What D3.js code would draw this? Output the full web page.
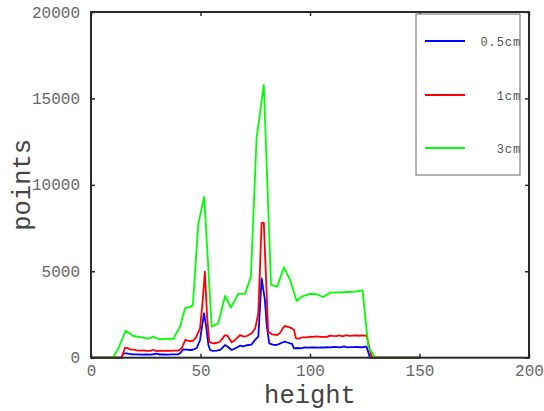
<!DOCTYPE html>
<html>
<head>
<meta charset="utf-8">
<script src="https://cdn.jsdelivr.net/npm/d3@7"></script>
<style>
  html, body { margin: 0; padding: 0; background: #fff; }
  svg { display: block; }
</style>
</head>
<body>
<svg id="chart" width="544" height="411"></svg>
<script>
// Pixel counts per height for three sample thicknesses
const heights05 = [0, 14, 14.7, 16, 17.5, 19, 21, 23, 25, 27, 28.5, 29.9, 31.5, 33, 35, 37, 39.9, 41, 42.1, 43.5, 45.2, 46.5, 48.3, 49.8, 50.8, 51.6, 52.6, 53.6, 54.4, 55.5, 57.4, 59, 60.2, 61.2, 62.3, 64.2, 65.5, 67, 68, 69.5, 70.5, 71.8, 73.2, 74.9, 76.4, 77.9, 79.4, 80.3, 81.4, 83, 84.6, 86, 87.4, 88.5, 89.7, 90.9, 91.8, 92.7, 94.2, 95.8, 97.7, 99, 100.5, 102, 103.5, 105, 106.5, 108, 109.5, 111, 112.5, 114, 115.5, 117, 118.5, 120, 121.5, 123, 124.5, 125.8, 127.4, 150];
const points05  = [0, 0, 255, 250, 215, 200, 190, 180, 185, 175, 200, 230, 185, 195, 180, 190, 200, 300, 485, 470, 445, 460, 560, 1025, 1900, 2570, 1800, 735, 445, 400, 405, 450, 600, 735, 650, 445, 520, 620, 695, 650, 700, 735, 760, 1025, 1215, 4590, 3340, 1800, 830, 760, 735, 800, 880, 925, 880, 830, 800, 545, 560, 545, 600, 580, 600, 590, 580, 600, 590, 605, 600, 620, 610, 600, 650, 600, 615, 610, 620, 605, 620, 640, 0, 0];

const heights1 = [0, 14, 15.5, 16.5, 17.8, 19.5, 21, 22.4, 24, 25.5, 27, 28.4, 29.9, 31.5, 33, 34.6, 36, 37.5, 39.9, 41.5, 43, 44, 45.2, 46.5, 47.8, 49.8, 51, 52, 53, 54, 55.7, 57.2, 58.8, 60.2, 61.2, 62.2, 64.2, 65.5, 67, 68, 69.2, 70.3, 71.8, 73.4, 75, 76.4, 77.9, 78.9, 80.9, 82.4, 83.6, 85, 86.5, 87.5, 88.5, 89.6, 90.9, 91.8, 92.7, 93.6, 95, 96.4, 98.5, 100, 101.5, 103, 104.5, 106, 107.5, 109, 110.5, 112, 113.5, 115, 116.5, 118, 119.5, 121, 122.5, 124, 125.8, 128.2, 150];
const points1  = [0, 0, 580, 560, 485, 470, 430, 405, 420, 400, 395, 460, 380, 410, 390, 405, 395, 410, 405, 560, 1025, 990, 965, 980, 1150, 1700, 3300, 4980, 2400, 925, 830, 850, 925, 1150, 1310, 1280, 890, 1000, 1180, 1310, 1250, 1215, 1300, 1410, 1700, 2570, 7780, 7810, 1500, 1370, 1330, 1310, 1450, 1700, 1835, 1800, 1740, 1700, 1600, 1120, 1100, 1180, 1180, 1220, 1200, 1230, 1210, 1200, 1190, 1280, 1260, 1250, 1290, 1240, 1300, 1260, 1280, 1290, 1270, 1290, 1270, 0, 0];

const heights3 = [0, 10, 12.5, 15.8, 19.3, 23.9, 26.2, 28.4, 31, 34.6, 37.6, 40.6, 43, 45.5, 46.5, 49, 51.7, 55.1, 58.1, 61.2, 63.9, 67.2, 70.3, 73, 75.6, 78.9, 82.2, 85, 88.1, 90.9, 93.9, 96.2, 100, 103, 106, 109.1, 113.7, 117.5, 120.5, 124, 126.6, 129.7, 148];
const points3  = [0, 0, 544, 1560, 1255, 1157, 1100, 1215, 1065, 1100, 1080, 1795, 2875, 2950, 3050, 7750, 9320, 1795, 1990, 3570, 2895, 3690, 3690, 4690, 12700, 15780, 4210, 4110, 5230, 4500, 3280, 3530, 3690, 3670, 3510, 3760, 3780, 3800, 3820, 3900, 640, 0, 0];

const seriesNames  = ["0.5cm", "1cm", "3cm"];
const seriesColors = ["#0000ff", "#ff0000", "#00ff00"];
const xTicks = [0, 50, 100, 150, 200];
const yTicks = [0, 5000, 10000, 15000, 20000];

const svg = d3.select("#chart");
const plotLeft = 91, plotRight = 529, plotTop = 12, plotBottom = 357.7;

const x = d3.scaleLinear().domain([0, 200]).range([plotLeft, plotRight]);
const y = d3.scaleLinear().domain([0, 20000]).range([plotBottom, plotTop]);

const series = [
  { name: seriesNames[0], color: seriesColors[0], h: heights05, v: points05 },
  { name: seriesNames[1], color: seriesColors[1], h: heights1,  v: points1 },
  { name: seriesNames[2], color: seriesColors[2], h: heights3,  v: points3 }
];

const line = d3.line().x(d => x(d[0])).y(d => y(d[1]));

series.forEach(s => {
  svg.append("path")
    .datum(s.h.map((h, i) => [h, s.v[i]]))
    .attr("fill", "none")
    .attr("stroke", s.color)
    .attr("stroke-width", 1.8)
    .attr("stroke-linejoin", "round")
    .attr("d", line);
});

// Frame with inward ticks on all four sides
const frameColor = "#2a2a2a";
const tickFont = "'Liberation Mono', monospace";

const axB = svg.append("g").attr("transform", `translate(0,${plotBottom})`)
  .call(d3.axisBottom(x).tickValues(xTicks).tickSize(-4).tickPadding(7).tickFormat(d3.format("d")));
const axT = svg.append("g").attr("transform", `translate(0,${plotTop})`)
  .call(d3.axisTop(x).tickValues(xTicks).tickSize(-4).tickFormat(""));
const axL = svg.append("g").attr("transform", `translate(${plotLeft},0)`)
  .call(d3.axisLeft(y).tickValues(yTicks).tickSize(-4).tickPadding(11).tickFormat(d3.format("d")));
const axR = svg.append("g").attr("transform", `translate(${plotRight},0)`)
  .call(d3.axisRight(y).tickValues(yTicks).tickSize(-4).tickFormat(""));

[axB, axT, axL, axR].forEach(g => {
  g.select(".domain").remove();
  g.selectAll(".tick line").attr("stroke", frameColor).attr("stroke-width", 1.5);
  g.selectAll(".tick text")
    .attr("fill", "#666")
    .style("font-family", tickFont)
    .style("font-size", "16px");
});

svg.append("rect")
  .attr("x", plotLeft).attr("y", plotTop)
  .attr("width", plotRight - plotLeft).attr("height", plotBottom - plotTop)
  .attr("fill", "none")
  .attr("stroke", frameColor)
  .attr("stroke-width", 2);

// Axis titles
svg.append("text")
  .attr("x", (plotLeft + plotRight) / 2).attr("y", 403)
  .attr("text-anchor", "middle")
  .attr("fill", "#444")
  .style("font-family", tickFont)
  .style("font-size", "25.5px")
  .text("height");

svg.append("text")
  .attr("transform", `translate(30,${(plotTop + plotBottom) / 2}) rotate(-90)`)
  .attr("text-anchor", "middle")
  .attr("fill", "#444")
  .style("font-family", tickFont)
  .style("font-size", "25.5px")
  .text("points");

// Legend
const legend = svg.append("g");
legend.append("rect")
  .attr("x", 416).attr("y", 14)
  .attr("width", 104).attr("height", 161)
  .attr("fill", "#fff")
  .attr("stroke", "#666")
  .attr("stroke-width", 1);

const legendRows = [41, 95, 148];
series.forEach((s, i) => {
  legend.append("line")
    .attr("x1", 425).attr("x2", 465)
    .attr("y1", legendRows[i]).attr("y2", legendRows[i])
    .attr("stroke", s.color)
    .attr("stroke-width", 2);
  legend.append("text")
    .attr("x", 521).attr("y", legendRows[i] + 4.5)
    .attr("text-anchor", "end")
    .attr("fill", "#555")
    .style("font-family", tickFont)
    .style("font-size", "12px")
    .style("letter-spacing", "0.9px")
    .text(s.name);
});
</script>
</body>
</html>
